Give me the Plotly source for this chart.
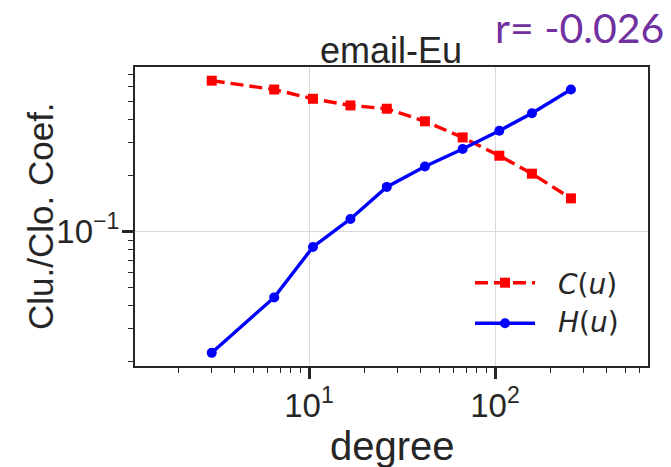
import plotly.graph_objects as go

# Degree bins (log-spaced) and the two per-bin averages
degree = [3.0, 6.5, 10.5, 16.7, 26.2, 42.0, 67.0, 105.5, 158.0, 256.0]
clustering = [0.648, 0.581, 0.518, 0.477, 0.458, 0.392, 0.321, 0.256, 0.205, 0.151]
closeness = [0.0223, 0.0443, 0.0827, 0.117, 0.174, 0.224, 0.278, 0.349, 0.433, 0.581]

series_names = ["<i>C</i>(<i>u</i>)", "<i>H</i>(<i>u</i>)"]
series_colors = ["#ff0000", "#0000ff"]
chart_title = "email-Eu"
corr_label = "r= -0.026"
x_label = "degree"
y_label = "Clu./Clo. Coef."

x_tickvals = [10, 100]
x_ticktext = ["10<sup>1</sup>", "10<sup>2</sup>"]
y_tickvals = [0.1]
y_ticktext = ["10<sup>\u22121</sup>"]
x_minor = [2, 3, 4, 5, 6, 7, 8, 9, 20, 30, 40, 50, 60, 70, 80, 90, 200, 300, 400, 500, 600]
y_minor = [0.02, 0.03, 0.04, 0.05, 0.06, 0.07, 0.08, 0.09, 0.2, 0.3, 0.4, 0.5, 0.6, 0.7]

# Figure geometry (pixels)
FIG_W, FIG_H = 671, 467
L, R, T, B = 135, 648, 67, 366
PW, PH = R - L, B - T


def px_x(p):
    return (p - L) / PW


def px_y(p):
    return (B - p) / PH


INK = "#262626"
SANS = "Liberation Sans, Arial, sans-serif"

fig = go.Figure()

fig.add_trace(go.Scatter(
    x=degree, y=clustering, mode="lines+markers", name="C(u)",
    line=dict(color=series_colors[0], width=3.4, dash="13px,6px"),
    marker=dict(symbol="square", size=10, color=series_colors[0]),
    showlegend=False,
))
fig.add_trace(go.Scatter(
    x=degree, y=closeness, mode="lines+markers", name="H(u)",
    line=dict(color=series_colors[1], width=3.4),
    marker=dict(symbol="circle", size=10, color=series_colors[1]),
    showlegend=False,
))

axis_common = dict(
    type="log",
    showline=True, mirror=True, linecolor=INK, linewidth=2,
    showgrid=True, gridcolor="#d9d9d9", gridwidth=1.3,
    ticks="outside", ticklen=11, tickwidth=2.5, tickcolor=INK,
    tickfont=dict(family=SANS, size=33, color=INK),
    tickmode="array",
    zeroline=False,
)

fig.update_xaxes(
    **axis_common,
    range=[0.0645, 2.8226],
    tickvals=x_tickvals, ticktext=x_ticktext,
    ticklabelstandoff=-2,
    minor=dict(tickmode="array", tickvals=x_minor, ticks="outside",
               ticklen=5, tickwidth=1.2, tickcolor=INK, showgrid=False),
)
fig.update_yaxes(
    **axis_common,
    range=[-1.7224, -0.1148],
    tickvals=y_tickvals, ticktext=y_ticktext,
    ticklabelstandoff=-4,
    minor=dict(tickmode="array", tickvals=y_minor, ticks="outside",
               ticklen=5, tickwidth=1.2, tickcolor=INK, showgrid=False),
)

annotations = [
    dict(text=chart_title, x=px_x(390.5), y=px_y(50), xanchor="center", yanchor="middle",
         font=dict(family=SANS, size=36, color=INK)),
    dict(text=corr_label, x=px_x(579), y=px_y(27), xanchor="center", yanchor="middle",
         font=dict(family="Lato, sans-serif", size=41, color="#7030a0")),
    dict(text=x_label, x=px_x(392), y=px_y(445.5), xanchor="center", yanchor="middle",
         font=dict(family=SANS, size=40, color=INK)),
    dict(text=y_label, x=px_x(40.5), y=0.5, xanchor="center", yanchor="middle", textangle=-90,
         font=dict(family=SANS, size=35, color=INK)),
]

# Legend: sample lines with markers and italic labels
legend_rows = [(282.7, 284.5), (323.3, 322.5)]
shapes = []
for i, (ly, ty) in enumerate(legend_rows):
    shapes.append(dict(
        type="line", xref="paper", yref="paper",
        x0=px_x(475), x1=px_x(535), y0=px_y(ly), y1=px_y(ly),
        line=dict(color=series_colors[i], width=3.4, dash="13px,6px" if i == 0 else "solid"),
    ))
    shapes.append(dict(
        type="rect" if i == 0 else "circle", xref="paper", yref="paper",
        xsizemode="pixel", ysizemode="pixel",
        xanchor=px_x(505), yanchor=px_y(ly),
        x0=-5, x1=5, y0=-5, y1=5,
        fillcolor=series_colors[i], line=dict(width=0),
    ))
    annotations.append(dict(
        text=series_names[i], x=px_x(556), y=px_y(ty), xanchor="left", yanchor="middle",
        font=dict(family="DejaVu Sans, sans-serif", size=28, color=INK),
    ))

for a in annotations:
    a.update(xref="paper", yref="paper", showarrow=False)

fig.update_layout(
    width=FIG_W, height=FIG_H,
    margin=dict(l=L, r=FIG_W - R, t=T, b=FIG_H - B, pad=0),
    paper_bgcolor="white", plot_bgcolor="white",
    annotations=annotations, shapes=shapes,
    showlegend=False,
)

fig.write_html("out.html")
